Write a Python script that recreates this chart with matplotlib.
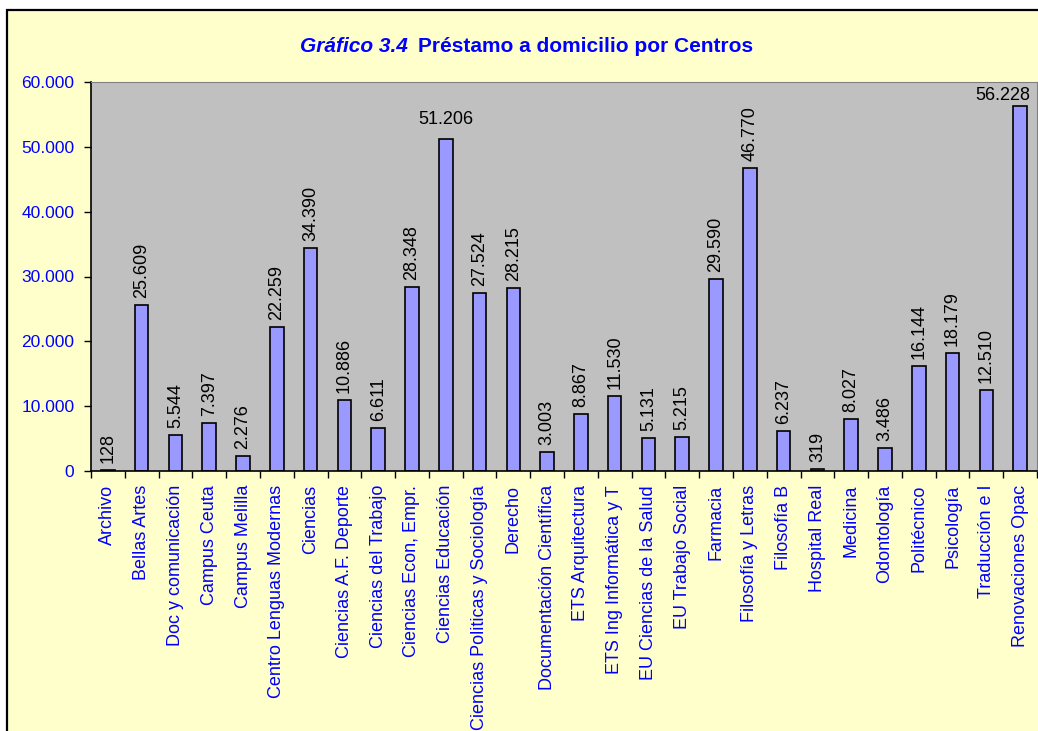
"""
Gráfico 3.4 - Préstamo a domicilio por Centros
"""
import matplotlib
matplotlib.use('Agg')  # sin pantalla
import matplotlib.pyplot as plt
from matplotlib.patches import Rectangle
from matplotlib.ticker import FuncFormatter, FixedLocator

plt.rcParams['font.family'] = ['Liberation Sans', 'DejaVu Sans']

# datos
centros = [
    "Archivo", "Bellas Artes", "Doc y comunicación", "Campus Ceuta",
    "Campus Melilla", "Centro Lenguas Modernas", "Ciencias",
    "Ciencias A.F. Deporte", "Ciencias del Trabajo", "Ciencias Econ, Empr.",
    "Ciencias Educación", "Ciencias Politicas y Sociología", "Derecho",
    "Documentación Científica", "ETS Arquitectura", "ETS Ing Informática y T",
    "EU Ciencias de la Salud", "EU Trabajo Social", "Farmacia",
    "Filosofía y Letras", "Filosofía B", "Hospital Real", "Medicina",
    "Odontología", "Politécnico", "Psicología", "Traducción e I",
    "Renovaciones Opac",
]
prestamos = [
    128, 25609, 5544, 7397, 2276, 22259, 34390, 10886, 6611, 28348,
    51206, 27524, 28215, 3003, 8867, 11530, 5131, 5215, 29590, 46770,
    6237, 319, 8027, 3486, 16144, 18179, 12510, 56228,
]
y_ticks = [0, 10000, 20000, 30000, 40000, 50000, 60000]

BLUE = '#0000FF'
BG = '#FFFFCC'
PLOT_BG = '#C0C0C0'
BAR = '#9999FF'


def miles(v, pos=None):
    # separador de miles con punto
    return f"{int(v):,}".replace(",", ".")


fig = plt.figure(figsize=(10.38, 7.31), dpi=100, facecolor='white')
W, H = 1038, 731

# marco amarillo del gráfico (sale por la derecha y por abajo)
fig.patches.append(Rectangle((7 / W, -0.1), 1.2, 1.1 - 10 / H,
                             transform=fig.transFigure, facecolor=BG,
                             edgecolor='black', linewidth=1.6, zorder=-10))

ax = fig.add_axes([91 / W, 1 - 471 / H, (1037 - 91) / W, (471 - 82) / H])
ax.set_zorder(1)
ax.set_facecolor(PLOT_BG)

x = list(range(len(centros)))
ax.bar(x, prestamos, width=0.4, color=BAR, edgecolor='black', linewidth=1.2,
       zorder=2)

ax.set_xlim(-0.5, len(centros) - 0.5)
ax.set_ylim(0, 60000)

# eje y
ax.set_yticks(y_ticks)
ax.yaxis.set_major_formatter(FuncFormatter(miles))
ax.tick_params(axis='y', colors='black', labelcolor=BLUE, labelsize=12.5,
               length=5, width=1, direction='out', pad=7)

# eje x: etiquetas centradas, marcas en los límites de categoría
ax.set_xticks(x)
ax.set_xticklabels(centros, rotation=90, va='top', ha='center')
ax.tick_params(axis='x', which='major', length=0, labelcolor=BLUE,
               labelsize=13, pad=10)
ax.xaxis.set_minor_locator(FixedLocator([i - 0.5 for i in range(len(centros) + 1)]))
ax.tick_params(axis='x', which='minor', length=5, width=1, direction='out',
               colors='black')

for side in ('top', 'right'):
    ax.spines[side].set_color('#808080')
ax.spines['left'].set_linewidth(1.2)
ax.spines['bottom'].set_linewidth(1.2)

# etiquetas de valor
horizontales = {10, 27}
for i, v in enumerate(prestamos):
    if i == 27:
        ax.annotate(miles(v), (i + 0.3, v), xytext=(0, 2),
                    textcoords='offset points', ha='right', va='bottom',
                    fontsize=13, color='black', annotation_clip=False)
    elif i in horizontales:
        ax.annotate(miles(v), (i, v), xytext=(0, 8),
                    textcoords='offset points', ha='center', va='bottom',
                    fontsize=13, color='black')
    else:
        ax.annotate(miles(v), (i, v), xytext=(0, 5),
                    textcoords='offset points', ha='center', va='bottom',
                    rotation=90, fontsize=13, color='black')

# título
fig.text(408 / W, 1 - 46 / H, "Gráfico 3.4", ha='right', va='center',
         fontsize=15, fontweight='bold', fontstyle='italic', color=BLUE)
fig.text(418 / W, 1 - 46 / H, "Préstamo a domicilio por Centros", ha='left',
         va='center', fontsize=15, fontweight='bold', color=BLUE)

fig.savefig('out.png', dpi=100, facecolor=fig.get_facecolor())
plt.close(fig)
